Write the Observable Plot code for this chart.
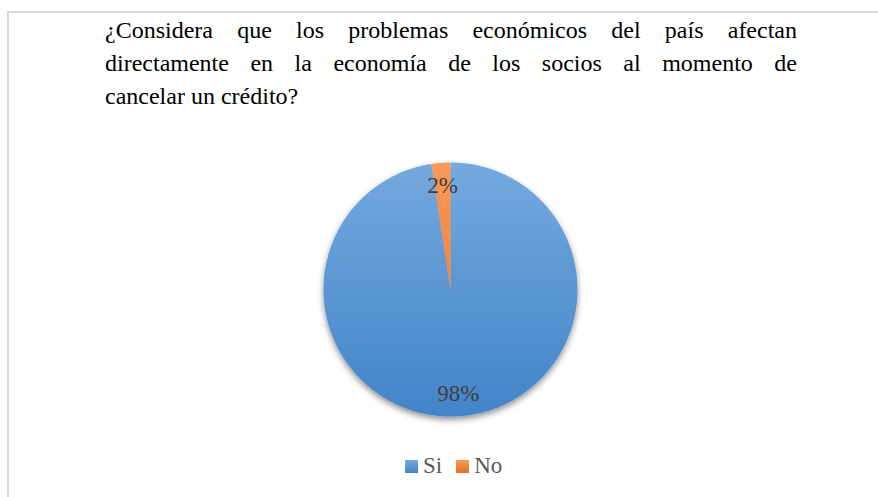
<!DOCTYPE html>
<html><head><meta charset="utf-8">
<script src="https://cdn.jsdelivr.net/npm/d3@7"></script>
<script src="https://cdn.jsdelivr.net/npm/@observablehq/plot@0.6"></script>
<style>
html,body{margin:0;padding:0;background:#fff;}
#frame{position:relative;width:878px;height:497px;overflow:hidden;font-family:"Liberation Serif","DejaVu Serif","Noto Serif","Nimbus Roman","Nimbus Roman No9 L",FreeSerif,Tinos,"Times New Roman",Times,serif;}
#border{position:absolute;left:7px;top:11px;right:-10px;bottom:-10px;border-left:2px solid #d9d9d9;border-top:2px solid #d9d9d9;}
#title{position:absolute;left:105px;width:692px;top:13.5px;font-size:24px;line-height:33.3px;color:#000;}
#title .j{text-align:justify;text-align-last:justify;}
#chart{position:absolute;left:0;top:144px;}
#legend{position:absolute;top:452px;left:405px;display:flex;align-items:center;font-size:23px;color:#595959;line-height:28px;}
#legend .sw{width:13px;height:13px;display:inline-block;margin-right:5px;}
#legend .it{display:flex;align-items:center;margin-right:14px;}
</style></head>
<body>
<div id="frame">
  <div id="border"></div>
  <div id="title"></div>
  <div id="chart"></div>
  <div id="legend"></div>
</div>
<script>
const titleLines = [
  "¿Considera que los problemas económicos del país afectan",
  "directamente en la economía de los socios al momento de",
  "cancelar un crédito?"
];
const categories = ["Si", "No"];
const values = [97.6, 2.4];
const labels = ["98%", "2%"];
const colorsTop = ["#74a9de", "#f7995a"];
const colorsBottom = ["#4284c8", "#ea7021"];
const serif = '"Liberation Serif","DejaVu Serif","Noto Serif","Nimbus Roman",FreeSerif,Tinos,"Times New Roman",Times,serif';

// Title
const t = document.getElementById("title");
titleLines.forEach((s, i) => {
  const d = document.createElement("div");
  if (i < titleLines.length - 1) d.className = "j";
  d.textContent = s;
  t.appendChild(d);
});

// Pie geometry from data
const arcs = d3.pie().sort(null)(values);
const slices = arcs.map((a, i) => {
  const pts = [{x: 0, y: 0}];
  const n = Math.max(4, Math.ceil((a.endAngle - a.startAngle) / 0.01));
  for (let k = 0; k <= n; k++) {
    const ang = a.startAngle + (a.endAngle - a.startAngle) * k / n;
    pts.push({x: Math.sin(ang), y: Math.cos(ang)});
  }
  pts.push({x: 0, y: 0});
  return pts;
});
const labelR = 0.82;
const labelData = arcs.map((a, i) => {
  const m = (a.startAngle + a.endAngle) / 2;
  return {x: labelR * Math.sin(m), y: labelR * Math.cos(m), text: labels[i]};
});

const W = 878, H = 290, R = 127, cx = 450, cy = 145;
const plot = Plot.plot({
  width: W, height: H,
  marginLeft: cx - R, marginRight: W - cx - R,
  marginTop: cy - R, marginBottom: H - cy - R,
  x: {domain: [-1, 1], axis: null},
  y: {domain: [-1, 1], axis: null},
  marks: [
    ...slices.map((pts, i) => Plot.line(pts, {x: "x", y: "y", fill: `url(#grad${i})`, stroke: "none", curve: "linear"})),
    Plot.text(labelData, {x: "x", y: "y", text: "text", fontSize: 23, fontFamily: serif, fill: "#404040"})
  ]
});
plot.style.background = "transparent";
plot.style.overflow = "visible";
plot.style.fontFamily = serif;
const ns = "http://www.w3.org/2000/svg";
const defs = document.createElementNS(ns, "defs");
categories.forEach((c, i) => {
  const g = document.createElementNS(ns, "linearGradient");
  g.setAttribute("id", `grad${i}`);
  g.setAttribute("gradientUnits", "userSpaceOnUse");
  g.setAttribute("x1", 0); g.setAttribute("y1", cy - R);
  g.setAttribute("x2", 0); g.setAttribute("y2", cy + R);
  [[0, colorsTop[i]], [1, colorsBottom[i]]].forEach(([o, col]) => {
    const s = document.createElementNS(ns, "stop");
    s.setAttribute("offset", o); s.setAttribute("stop-color", col);
    g.appendChild(s);
  });
  defs.appendChild(g);
});
const f = document.createElementNS(ns, "filter");
f.setAttribute("id", "shadow");
f.setAttribute("x", "-20%"); f.setAttribute("y", "-20%");
f.setAttribute("width", "140%"); f.setAttribute("height", "140%");
const ds = document.createElementNS(ns, "feDropShadow");
ds.setAttribute("dx", 0); ds.setAttribute("dy", 3);
ds.setAttribute("stdDeviation", 3);
ds.setAttribute("flood-color", "#000");
ds.setAttribute("flood-opacity", 0.45);
f.appendChild(ds);
defs.appendChild(f);
plot.insertBefore(defs, plot.firstChild);
const lineGroups = plot.querySelectorAll('g[aria-label="line"]');
const wrap = document.createElementNS(ns, "g");
wrap.setAttribute("filter", "url(#shadow)");
lineGroups[0].parentNode.insertBefore(wrap, lineGroups[0]);
lineGroups.forEach(g => wrap.appendChild(g));
document.getElementById("chart").appendChild(plot);

// Legend
const lg = document.getElementById("legend");
categories.forEach((c, i) => {
  const it = document.createElement("span");
  it.className = "it";
  const sw = document.createElement("span");
  sw.className = "sw";
  sw.style.background = `linear-gradient(${colorsTop[i]}, ${colorsBottom[i]})`;
  const tx = document.createElement("span");
  tx.textContent = c;
  it.appendChild(sw); it.appendChild(tx);
  lg.appendChild(it);
});
</script>
</body></html>
